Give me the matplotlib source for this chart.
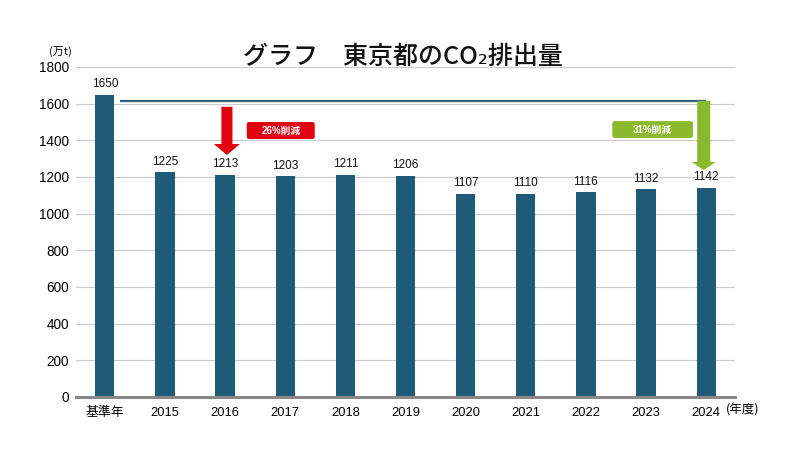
import matplotlib
matplotlib.use("Agg")
import matplotlib.pyplot as plt
from matplotlib.patches import Polygon, FancyBboxPatch

categories = ["基準年", "2015", "2016", "2017", "2018", "2019", "2020", "2021", "2022", "2023", "2024"]
values = [1650, 1225, 1213, 1203, 1211, 1206, 1107, 1110, 1116, 1132, 1142]
yticks = [0, 200, 400, 600, 800, 1000, 1200, 1400, 1600, 1800]
title = "グラフ　東京都のCO₂排出量"
red_label = "26%削減"
green_label = "31%削減"

FAM = ["Liberation Sans", "Noto Sans CJK JP", "DejaVu Sans"]
CJK = ["Noto Sans CJK JP", "DejaVu Sans"]
plt.rcParams["font.family"] = FAM

BAR = "#1f5a78"
RED = "#e0000f"
GREEN = "#8cb82d"
LINE = "#2f6079"

fig = plt.figure(figsize=(8.04, 4.75), dpi=100)
ax = fig.add_axes([76/804, 1-397/475, (735-76)/804, (397-67)/475])
x = list(range(len(categories)))
ax.bar(x, values, width=0.32, color=BAR, zorder=3)
for xi, v in zip(x, values):
    ax.text(xi, v + 25, str(v), ha="center", va="bottom", fontsize=8.5, color="#111111", zorder=4)

ax.set_xlim(-0.48, 10.48)
ax.set_ylim(0, 1800)
ax.set_yticks(yticks)
ax.set_yticklabels([str(t) for t in yticks], fontsize=9.8)
ax.set_xticks(x)
ax.set_xticklabels(categories, fontsize=9.3)
ax.tick_params(axis="both", length=0, pad=5)
ax.tick_params(axis="x", pad=7)
ax.grid(axis="y", color="#cccccc", linewidth=0.9, zorder=0)
for s in ["left", "right", "top"]:
    ax.spines[s].set_visible(False)
ax.spines["bottom"].set_color("#888888")
ax.spines["bottom"].set_linewidth(2.2)
ax.spines["bottom"].set_zorder(5)

# baseline reference line
base_level = 1615
ax.plot([0.25, 10.0], [base_level, base_level], color=LINE, linewidth=1.6, zorder=4, solid_capstyle="butt")

def down_arrow(cx, top, head_start, tip, shaft_hw, head_hw, color):
    pts = [(cx - shaft_hw, top), (cx + shaft_hw, top), (cx + shaft_hw, head_start),
           (cx + head_hw, head_start), (cx, tip), (cx - head_hw, head_start),
           (cx - shaft_hw, head_start)]
    ax.add_patch(Polygon(pts, closed=True, facecolor=color, edgecolor="none", zorder=6))

down_arrow(2.03, 1583, 1380, 1320, 0.092, 0.216, RED)
down_arrow(9.96, base_level, 1282, 1238, 0.108, 0.2, GREEN)

def label_box(x0, x1, y0, y1, text, color):
    ax.add_patch(FancyBboxPatch((x0, y0), x1 - x0, y1 - y0,
                                boxstyle="round,pad=0,rounding_size=0.05",
                                mutation_aspect=200, facecolor=color, edgecolor="none", zorder=6))
    ax.text((x0 + x1) / 2, (y0 + y1) / 2, text, ha="center", va="center", fontsize=7,
            color="white", fontweight="bold", family=FAM, zorder=7)

label_box(2.36, 3.49, 1407, 1500, red_label, RED)
label_box(8.44, 9.78, 1413, 1505, green_label, GREEN)

fig.text(403/804, 1-57/475, title, ha="center", va="center", fontsize=18, fontweight="medium",
         family=CJK, color="#111111")
fig.text(60/804, 1-52/475, "(万t)", ha="center", va="center", fontsize=8, family=CJK)
fig.text(743/804, 1-410/475, "(年度)", ha="center", va="center", fontsize=9, family=CJK)

fig.savefig("out.png", dpi=100)
